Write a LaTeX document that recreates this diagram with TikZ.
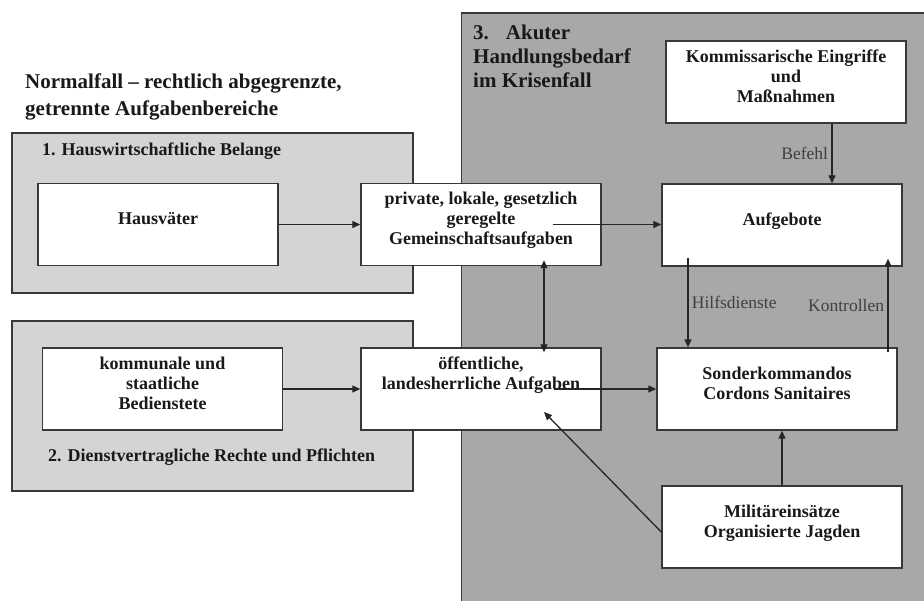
\documentclass[tikz,border=0pt]{standalone}
\usepackage{fontspec}
\setmainfont{Liberation Serif}
\usetikzlibrary{arrows.meta}
\definecolor{krise}{HTML}{A8A8A8}
\definecolor{normal}{HTML}{D4D4D4}
\definecolor{rand}{HTML}{383838}
\tikzset{>={Triangle[length=8pt,width=7pt]}}
\tikzstyle{bereich} = [draw=rand, line width=1.4pt]
\tikzstyle{kasten} = [draw=rand, line width=1.4pt, fill=white, minimum width=240pt, minimum height=82pt, align=center, text=black!90, font=\fontsize{18}{20}\selectfont\bfseries, text depth=12pt]
\tikzstyle{pfeil} = [line width=1.3pt, draw=black!85, ->]
\tikzstyle{beschriftung} = [text=black!75, font=\fontsize{17.5}{20}\selectfont]
\tikzstyle{titel} = [anchor=west, align=left, inner sep=0pt, text=black!90, font=\fontsize{21}{27}\selectfont\bfseries]

\begin{document}
\begin{tikzpicture}[x=1pt, y=-1pt]

	\useasboundingbox (0,0) rectangle (924,600);
	\clip (0,0) rectangle (924,600);
	\fill[white] (0,0) rectangle (924,600);

	\draw[bereich, fill=krise] (461.5,13) rectangle (940,620);
	\draw[bereich, fill=normal] (12,133) rectangle (413,293);
	\draw[bereich, fill=normal] (12,321) rectangle (413,491);

	\node[titel] (normalfall) at (25,96.5) {Normalfall – rechtlich abgegrenzte,\\getrennte Aufgabenbereiche};
	\node[titel, font=\fontsize{21}{24}\selectfont\bfseries] (krisenfall) at (473,56) {3.\hspace{17pt}Akuter\\Handlungsbedarf\\im Krisenfall};
	\node[titel, font=\fontsize{18}{20}\selectfont\bfseries] (haushalt) at (42,151) {1. Hauswirtschaftliche Belange};
	\node[titel, font=\fontsize{18}{20}\selectfont\bfseries] (dienst) at (48,457) {2. Dienstvertragliche Rechte und Pflichten};

	\node[kasten] (hausvaeter) at (158,224.5) {Hausväter};
	\node[kasten] (privat) at (481,224.5) {private, lokale, gesetzlich\\geregelte\\Gemeinschaftsaufgaben};
	\node[kasten] (kommunal) at (162.5,389) {kommunale und\\staatliche\\Bedienstete};
	\node[kasten] (oeffentlich) at (481,389) {öffentliche,\\landesherrliche Aufgaben\\\mbox{}};
	\node[kasten] (kommissar) at (786,82) {Kommissarische Eingriffe\\und\\Maßnahmen};
	\node[kasten] (aufgebote) at (782,225) {Aufgebote};
	\node[kasten] (sonder) at (777,389) {Sonderkommandos\\Cordons Sanitaires};
	\node[kasten] (militaer) at (782,527) {Militäreinsätze\\Organisierte Jagden};

	\draw[pfeil] (hausvaeter) -- (privat);
	\draw[pfeil] (kommunal) -- (oeffentlich);
	\draw[pfeil] ([xshift=-49pt]privat.east) -- (aufgebote.west |- privat.east);
	\draw[pfeil] ([xshift=-48pt]oeffentlich.east) -- (sonder.west);
	\draw[pfeil, <->] ([shift={(63pt,6pt)}]privat.south) -- ([shift={(63pt,-5pt)}]oeffentlich.north);
	\draw[pfeil] ([xshift=46pt]kommissar.south) -- ([xshift=46pt]kommissar.south |- aufgebote.north)
		node[midway, left, beschriftung] {Befehl};
	\draw[pfeil] ([shift={(-94pt,9pt)}]aufgebote.south) -- ([xshift=-94pt]aufgebote.south |- sonder.north)
		node[midway, right, beschriftung] {Hilfsdienste};
	\draw[pfeil] ([shift={(111pt,-5pt)}]sonder.north) -- ([shift={(106pt,8pt)}]aufgebote.south)
		node[midway, left, beschriftung] {Kontrollen};
	\draw[pfeil] (militaer.north) -- (militaer.north |- sonder.south);
	\draw[pfeil] ([yshift=-5pt]militaer.west) -- ([shift={(63pt,-23pt)}]oeffentlich.center);

\end{tikzpicture}
\end{document}
